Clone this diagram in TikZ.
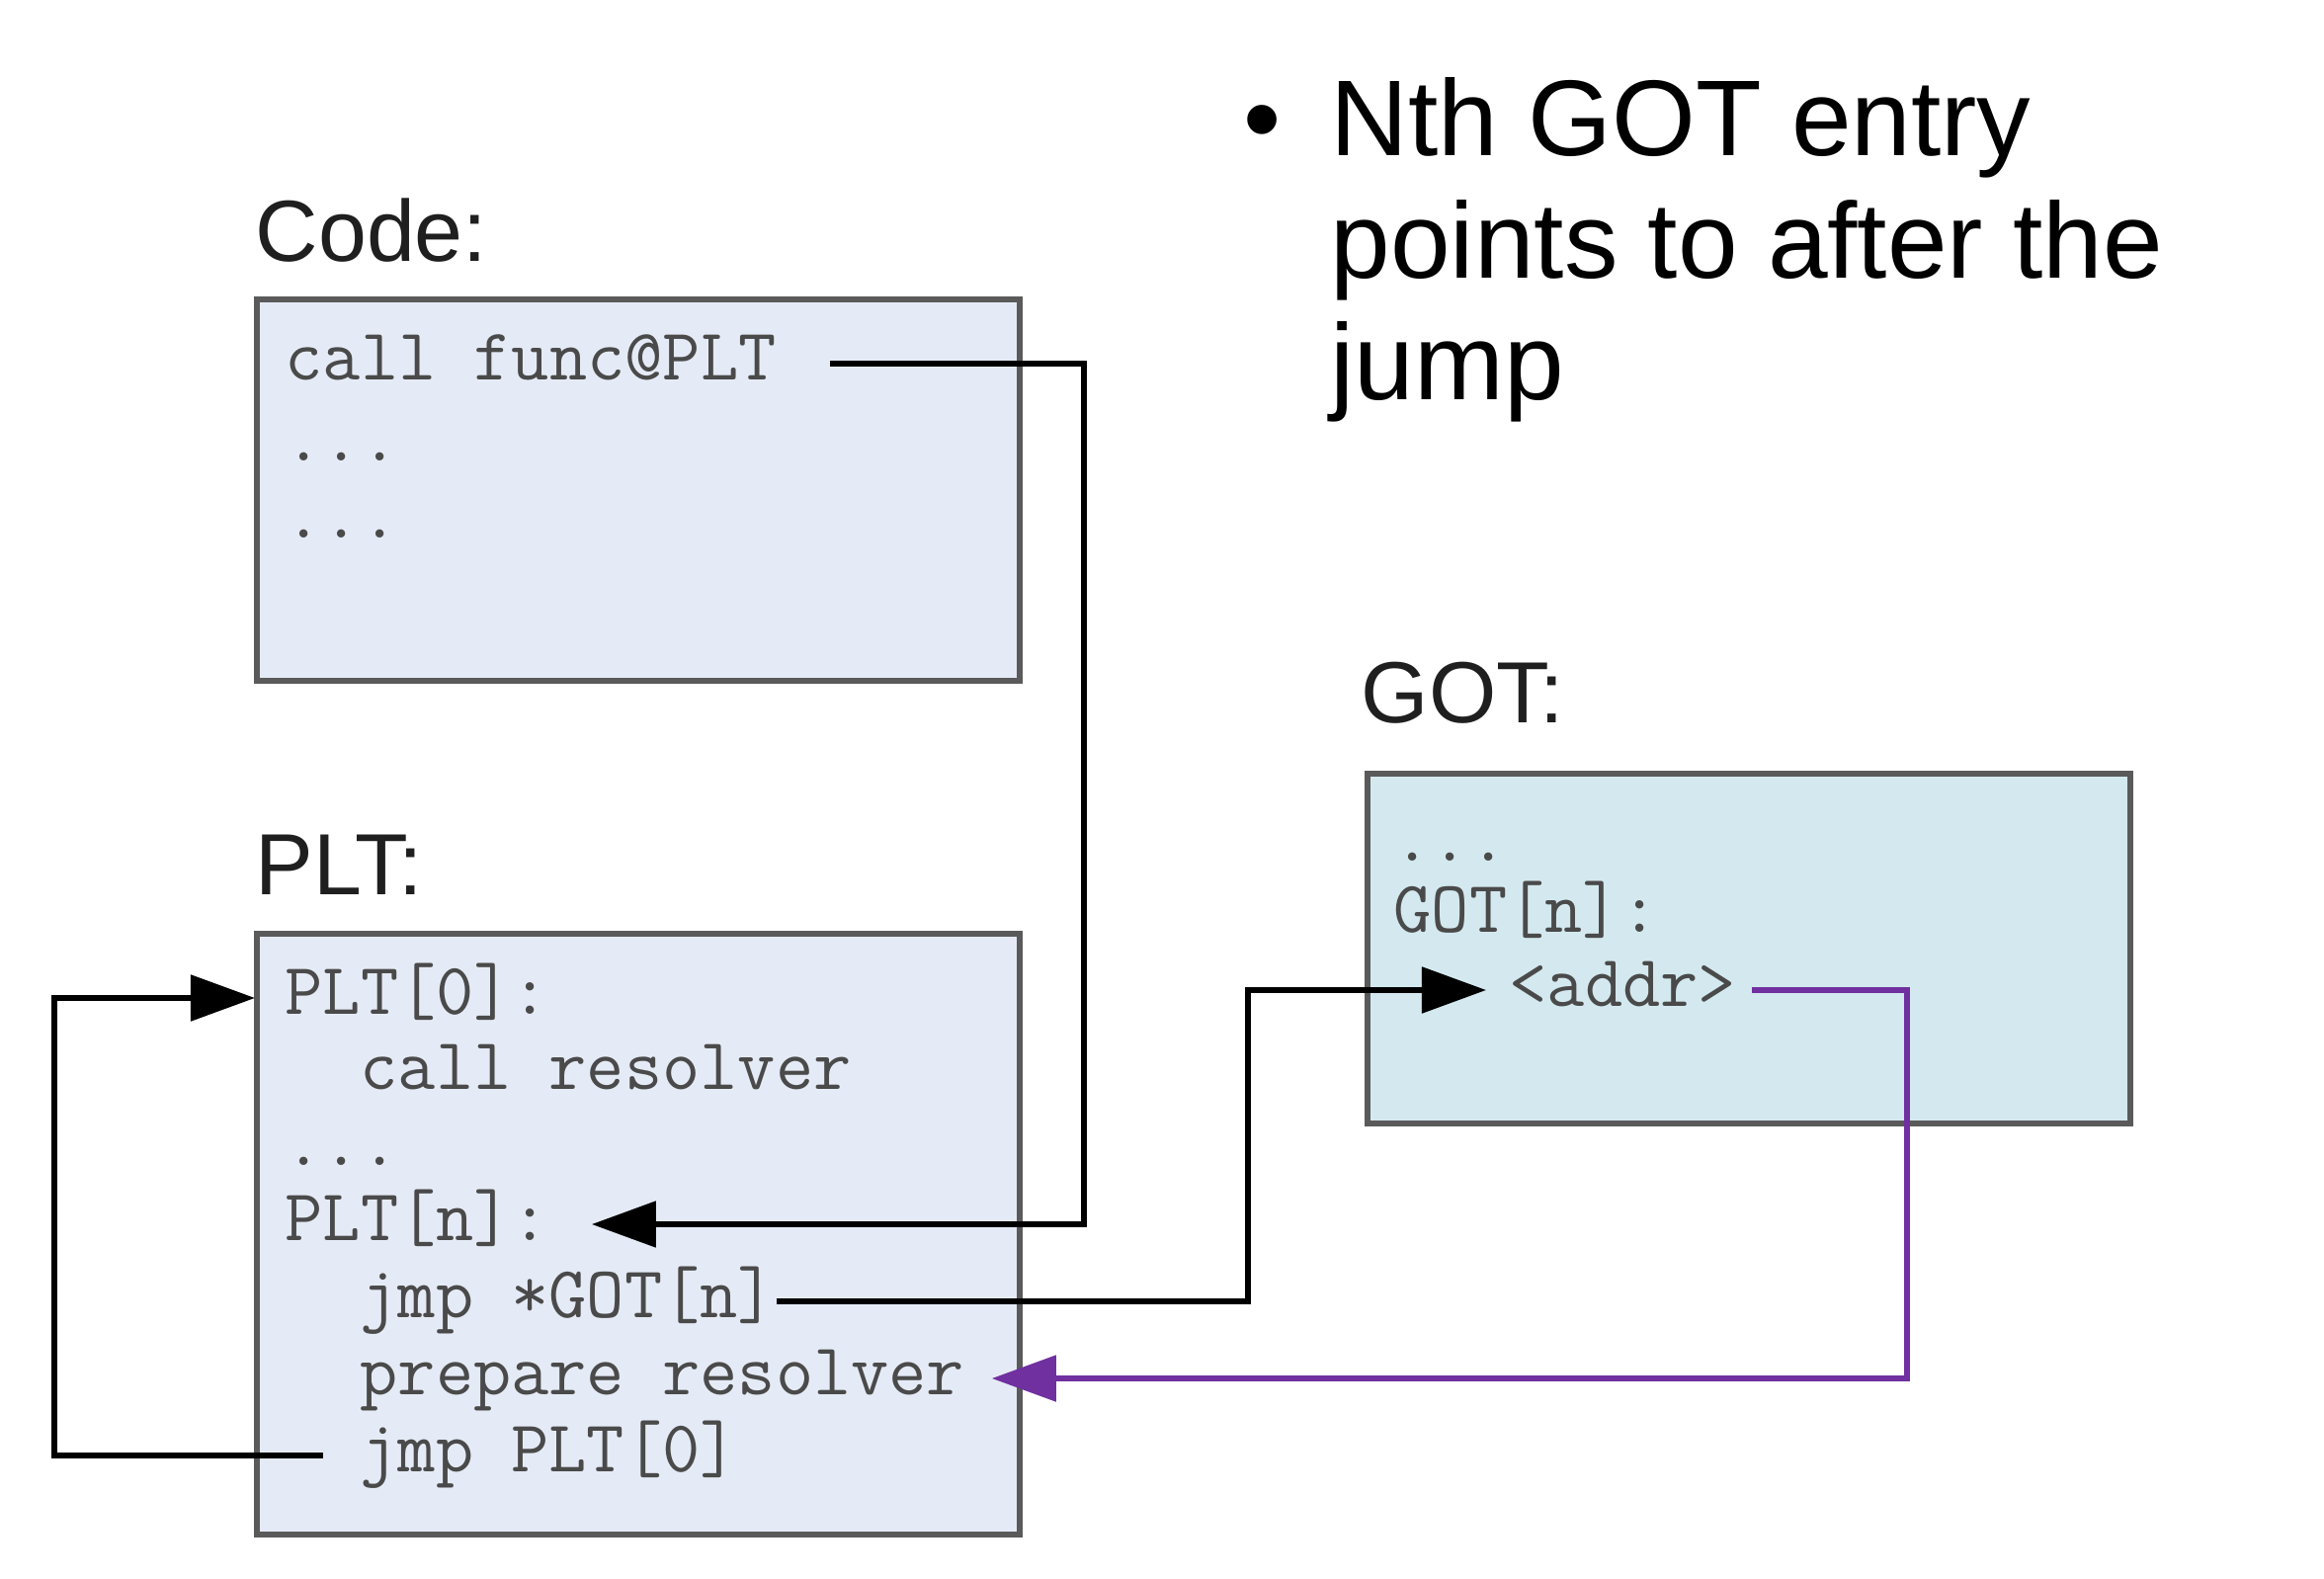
\documentclass[tikz,border=0pt]{standalone}
\usepackage{fontspec}
\setmainfont{Liberation Sans}
\usetikzlibrary{positioning,arrows.meta}
\definecolor{boxblue}{HTML}{E5EBF6}
\definecolor{boxcyan}{HTML}{D3E9EF}
\definecolor{edgegray}{HTML}{5A5A5A}
\definecolor{codegray}{HTML}{4A4A4A}
\definecolor{resolvpurple}{HTML}{7030A0}

\begin{document}
\begin{tikzpicture}[x=0.01cm,y=-0.01cm]
        \tikzstyle{mem}=[draw=edgegray, line width=1.6pt, fill=boxblue, minimum width=7.71cm, inner sep=0pt];
        \tikzstyle{code}=[font=\fontsize{21.1}{23}\selectfont\ttfamily, text=codegray, inner sep=0pt, text height=12.8pt, text depth=3.6pt, anchor=west];
        \tikzstyle{lbl}=[font=\fontsize{25}{30}\selectfont, text=black!88, anchor=base west, inner sep=0pt];
        \tikzstyle{note}=[font=\fontsize{31}{36}\selectfont, anchor=base west, inner sep=0pt];
        \tikzstyle{arr}=[line width=1.5pt, -{Triangle[length=6.5mm,width=4.6mm]}];
        \useasboundingbox (0,0) rectangle (2352,1598);
        % boxes
        \node[mem, minimum height=3.86cm] (codebox) at (646,496) {};
        \node[mem, minimum height=6.08cm] (pltbox) at (646,1249) {};
        \node[mem, fill=boxcyan, minimum width=7.72cm, minimum height=3.54cm] (gotbox) at (1770,960) {};
        \node[lbl] (codelbl) at (258,265) {Code:};
        \node[lbl] (pltlbl) at (258,906) {PLT:};
        \node[lbl] (gotlbl) at (1377,732) {GOT:};
        % code lines
        \node[code] (call) at (288,368) {call func@PLT};
        \node[code] (cdots1) at (288,450) {...};
        \node[code] (cdots2) at (288,528) {...};
        \node[code] (plt0) at (288,1010) {PLT[0]:};
        \node[code] (callres) at (364,1086) {call resolver};
        \node[code] (pdots) at (288,1163) {...};
        \node[code] (pltn) at (288,1239) {PLT[n]:};
        \node[code] (jmpgot) at (364,1317) {jmp *GOT[n]};
        \node[code] (prep) at (364,1395) {prepare resolver};
        \node[code] (jmpplt) at (364,1473) {jmp PLT[0]};
        \node[code] (gdots) at (1410,855) {...};
        \node[code] (gotn) at (1410,927) {GOT[n]:};
        \node[code] (addr) at (1527,1002) {<addr>};
        % bends
        \coordinate (r1) at (1097,0);
        \coordinate (l1) at (55,0);
        \coordinate (m1) at (1263,0);
        \coordinate (p1) at (1930,0);
        \draw[arr] ([xshift=5.4mm]call.east) -| (r1 |- pltn.east) -- ([xshift=4.2mm]pltn.east);
        \draw[arr] ([xshift=-3.7mm]jmpplt.west) -| (l1 |- plt0.west) -- ([xshift=-3mm]plt0.west);
        \draw[arr] (jmpgot.east) -| (m1 |- addr.west) -- ([xshift=-2.3mm]addr.west);
        \draw[arr, resolvpurple] ([xshift=1.5mm]addr.east) -| (p1 |- prep.east) -- ([xshift=2.7mm]prep.east);
        % bullet text
        \node[note] (bul) at (1258,158) {\textbullet};
        \node[note] (n1) at (1346,158) {Nth GOT entry};
        \node[note] (n2) at (1346,282) {points to after the};
        \node[note] (n3) at (1346,405) {jump};
    \end{tikzpicture}
\end{document}
